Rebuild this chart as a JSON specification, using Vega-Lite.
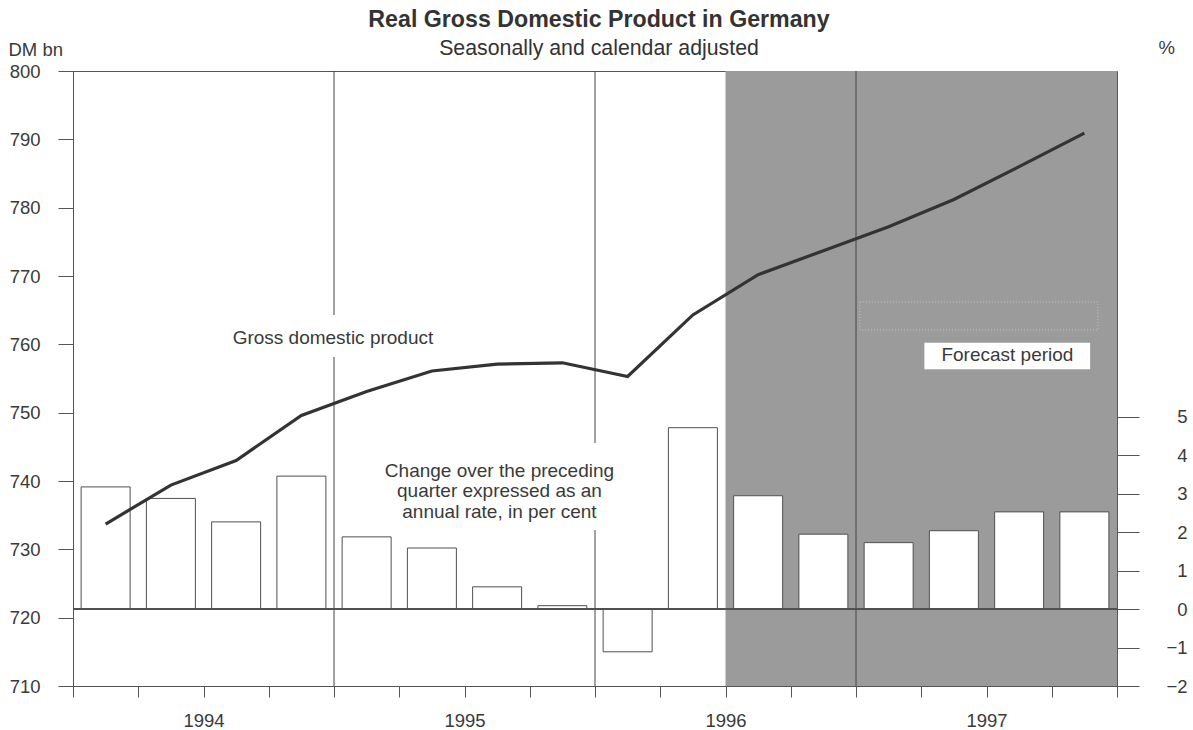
{
  "$schema": "https://vega.github.io/schema/vega-lite/v6.json",
  "width": 1044,
  "height": 615,
  "autosize": "none",
  "padding": {"left": 73, "top": 71, "right": 76, "bottom": 44},
  "background": "white",
  "config": {
    "font": "Liberation Sans",
    "view": {"stroke": "#555555", "strokeWidth": 1},
    "axis": {
      "labelFont": "Liberation Sans",
      "labelFontSize": 18.5,
      "labelColor": "#3a3a3a",
      "titleFont": "Liberation Sans",
      "titleFontSize": 18.5,
      "titleFontWeight": "normal",
      "titleColor": "#3a3a3a",
      "domainColor": "#555555",
      "tickColor": "#555555",
      "grid": false,
      "zindex": 1
    },
    "text": {"font": "Liberation Sans", "fontSize": 19, "color": "#3a3a3a"}
  },
  "title": {
    "text": "Real Gross Domestic Product in Germany",
    "subtitle": "Seasonally and calendar adjusted",
    "fontSize": 23.2,
    "fontWeight": "bold",
    "color": "#333333",
    "subtitleFontSize": 21.3,
    "subtitleColor": "#333333",
    "subtitlePadding": 6,
    "anchor": "middle",
    "frame": "group",
    "offset": -22.5,
    "dx": 4
  },
  "datasets": {
    "quarters": [
      {"quarter": "1994 Q1", "t": 1994.125, "gdp": 733.7, "change": 3.18},
      {"quarter": "1994 Q2", "t": 1994.375, "gdp": 739.4, "change": 2.88},
      {"quarter": "1994 Q3", "t": 1994.625, "gdp": 743.0, "change": 2.27},
      {"quarter": "1994 Q4", "t": 1994.875, "gdp": 749.6, "change": 3.46},
      {"quarter": "1995 Q1", "t": 1995.125, "gdp": 753.1, "change": 1.88},
      {"quarter": "1995 Q2", "t": 1995.375, "gdp": 756.1, "change": 1.59},
      {"quarter": "1995 Q3", "t": 1995.625, "gdp": 757.1, "change": 0.58},
      {"quarter": "1995 Q4", "t": 1995.875, "gdp": 757.3, "change": 0.09},
      {"quarter": "1996 Q1", "t": 1996.125, "gdp": 755.3, "change": -1.11},
      {"quarter": "1996 Q2", "t": 1996.375, "gdp": 764.3, "change": 4.72},
      {"quarter": "1996 Q3", "t": 1996.625, "gdp": 770.2, "change": 2.95},
      {"quarter": "1996 Q4", "t": 1996.875, "gdp": 773.7, "change": 1.95},
      {"quarter": "1997 Q1", "t": 1997.125, "gdp": 777.2, "change": 1.73},
      {"quarter": "1997 Q2", "t": 1997.375, "gdp": 781.2, "change": 2.04},
      {"quarter": "1997 Q3", "t": 1997.625, "gdp": 786.0, "change": 2.53},
      {"quarter": "1997 Q4", "t": 1997.875, "gdp": 790.9, "change": 2.53}
    ],
    "years": [{"boundary": 1995}, {"boundary": 1996}, {"boundary": 1997}]
  },
  "layer": [
    {
      "data": {"values": [{"period": "Forecast period"}]},
      "mark": {"type": "rect", "color": "#9b9b9b"},
      "encoding": {
        "x": {
          "datum": 1996.5,
          "type": "quantitative",
          "scale": {"domain": [1994, 1998], "nice": false, "zero": false, "padding": 0},
          "axis": {
            "orient": "bottom",
            "title": null,
            "values": [1994, 1994.25, 1994.5, 1994.75, 1995, 1995.25, 1995.5, 1995.75, 1996, 1996.25, 1996.5, 1996.75, 1997, 1997.25, 1997.5, 1997.75, 1998],
            "labelExpr": "datum.value % 1 == 0.5 ? format(floor(datum.value), 'd') : ''",
            "labelOverlap": false,
            "labelFlush": false,
            "tickSize": 11,
            "labelPadding": 14,
            "domain": true
          }
        },
        "x2": {"datum": 1998}
      }
    },
    {
      "data": {"name": "years"},
      "mark": {"type": "rule", "color": "#444444", "strokeWidth": 1},
      "encoding": {
        "x": {"field": "boundary", "type": "quantitative", "title": null}
      }
    },
    {
      "data": {"values": [{"note": "gdp"}]},
      "layer": [
        {
          "mark": {"type": "rect", "fill": "white"},
          "encoding": {
            "x": {"datum": 1994.594, "type": "quantitative", "title": null},
            "x2": {"datum": 1995.395},
            "y": {"datum": 758.15, "type": "quantitative", "scale": {"domain": [710, 800], "nice": false, "zero": false}, "axis": null},
            "y2": {"datum": 764.3}
          }
        },
        {
          "mark": {"type": "text", "text": "Gross domestic product", "align": "center", "baseline": "middle"},
          "encoding": {
            "x": {"datum": 1994.996, "type": "quantitative", "title": null},
            "y": {"datum": 760.93, "type": "quantitative"}
          }
        }
      ]
    },
    {
      "data": {"values": [{"note": "change"}]},
      "layer": [
        {
          "mark": {"type": "rect", "fill": "white"},
          "encoding": {
            "x": {"datum": 1995.188, "type": "quantitative", "title": null},
            "x2": {"datum": 1996.084},
            "y": {"datum": 732.83, "type": "quantitative", "scale": {"domain": [710, 800], "nice": false, "zero": false}, "axis": null},
            "y2": {"datum": 745.56}
          }
        },
        {
          "mark": {"type": "text", "text": ["Change over the preceding", "quarter expressed as an", "annual rate, in per cent"], "align": "center", "baseline": "middle", "lineHeight": 20.5},
          "encoding": {
            "x": {"datum": 1995.634, "type": "quantitative", "title": null},
            "y": {"datum": 741.5, "type": "quantitative"}
          }
        }
      ]
    },
    {
      "data": {"values": [{"note": "forecast"}]},
      "layer": [
        {
          "mark": {"type": "rect", "fill": null, "stroke": "#c4c4c4", "strokeWidth": 1, "strokeDash": [1, 2]},
          "encoding": {
            "x": {"datum": 1997.015, "type": "quantitative", "title": null},
            "x2": {"datum": 1997.927},
            "y": {"datum": 762.1, "type": "quantitative", "scale": {"domain": [710, 800], "nice": false, "zero": false}, "axis": null},
            "y2": {"datum": 766.2}
          }
        },
        {
          "mark": {"type": "rect", "fill": "white"},
          "encoding": {
            "x": {"datum": 1997.262, "type": "quantitative", "title": null},
            "x2": {"datum": 1997.897},
            "y": {"datum": 756.35, "type": "quantitative"},
            "y2": {"datum": 760.24}
          }
        },
        {
          "mark": {"type": "text", "text": "Forecast period", "align": "center", "baseline": "middle"},
          "encoding": {
            "x": {"datum": 1997.58, "type": "quantitative", "title": null},
            "y": {"datum": 758.44, "type": "quantitative"}
          }
        }
      ]
    },
    {
      "data": {"name": "quarters"},
      "layer": [
        {
          "mark": {"type": "bar", "width": 49, "fill": "white", "stroke": "#505050", "strokeWidth": 1},
          "encoding": {
            "x": {"field": "t", "type": "quantitative", "title": null},
            "y": {
              "field": "change",
              "type": "quantitative",
              "scale": {"domain": [-2, 14], "nice": false, "zero": false},
              "axis": {
                "orient": "right",
                "values": [-2, -1, 0, 1, 2, 3, 4, 5],
                "tickSize": 22,
                "labelAlign": "right",
                "labelPadding": 48,
                "domain": false,
                "title": "%",
                "titleAngle": 0,
                "titleAlign": "left",
                "titleBaseline": "alphabetic",
                "titleX": 41,
                "titleY": -18
              }
            },
            "y2": {"datum": 0}
          }
        },
        {
          "mark": {"type": "rule", "color": "#505050", "strokeWidth": 1.2},
          "encoding": {"y": {"datum": 0, "type": "quantitative"}}
        }
      ]
    },
    {
      "data": {"name": "quarters"},
      "mark": {"type": "line", "color": "#333333", "strokeWidth": 3.2},
      "encoding": {
        "x": {"field": "t", "type": "quantitative", "title": null},
        "y": {
          "field": "gdp",
          "type": "quantitative",
          "scale": {"domain": [710, 800], "nice": false, "zero": false},
          "axis": {
            "orient": "left",
            "values": [710, 720, 730, 740, 750, 760, 770, 780, 790, 800],
            "tickSize": 15,
            "labelPadding": 18,
            "domain": true,
            "title": "DM bn",
            "titleAngle": 0,
            "titleAlign": "left",
            "titleBaseline": "alphabetic",
            "titleX": -65,
            "titleY": -16
          }
        }
      }
    }
  ],
  "resolve": {"scale": {"y": "independent"}}
}
